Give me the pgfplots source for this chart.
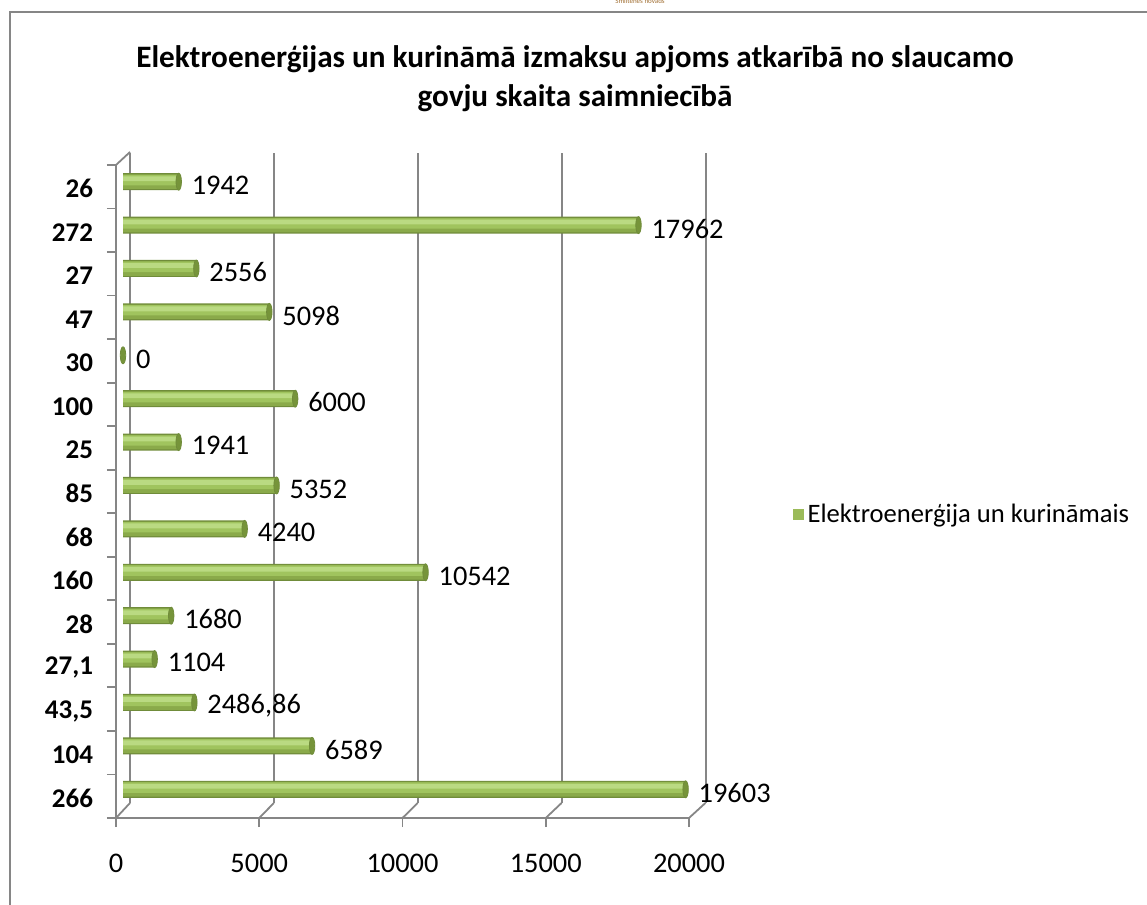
\documentclass[border=0pt]{standalone}
\usepackage{fontspec}
\setmainfont{Carlito}
\usepackage{pgfplots}
\pgfplotsset{compat=1.18}
\usepackage{pgfplotstable}
\definecolor{gridgray}{RGB}{134,134,134}
\definecolor{barE}{RGB}{112,140,58}
\definecolor{barM}{RGB}{138,170,74}
\definecolor{barG}{RGB}{160,196,94}
\definecolor{barL}{RGB}{186,218,130}
\definecolor{capG}{RGB}{118,148,58}
\definecolor{legG}{RGB}{155,187,89}
\definecolor{brownt}{RGB}{160,110,50}

\pgfplotstableread{
i v lab
0 19603 19603
1 6589 6589
2 2486.86 2486,86
3 1104 1104
4 1680 1680
5 10542 10542
6 4240 4240
7 5352 5352
8 1941 1941
9 6000 6000
10 0 0
11 5098 5098
12 2556 2556
13 17962 17962
14 1942 1942
}\datatable

\begin{document}
\begin{tikzpicture}
\useasboundingbox (0,0) rectangle (573.5pt,452.5pt);
\draw[gridgray, line width=1.2pt] (5pt,-20pt) rectangle (600pt,446.5pt);
\node[font=\fontsize{3.5pt}{4pt}\selectfont, text=brownt] at (320pt,452pt) {Smiltenes novads};
\node[font=\fontsize{15.6pt}{18pt}\selectfont\bfseries] at (287.5pt,423pt) {Elektroenerģijas un kurināmā izmaksu apjoms atkarībā no slaucamo};
\node[font=\fontsize{15.6pt}{18pt}\selectfont\bfseries] at (287.5pt,403.5pt) {govju skaita saimniecībā};

% back plane (grid)
\begin{axis}[
  scale only axis, anchor=south west, at={(65pt,51pt)},
  width=288pt, height=325pt,
  xmin=0, xmax=20000, ymin=-0.5, ymax=14.5,
  scaled x ticks=false,
  xtick={0,5000,10000,15000,20000}, xticklabels={},
  ytick=\empty,
  xmajorgrids, grid style={gridgray, line width=0.9pt},
  axis line style={draw=none}, tick style={draw=none},
]
\end{axis}

% front plane (axes, ticks, labels)
\begin{axis}[
  scale only axis, anchor=south west, at={(58pt,43.5pt)},
  width=286.5pt, height=326.5pt,
  xmin=0, xmax=20000, ymin=-0.5, ymax=14.5,
  scaled x ticks=false,
  axis x line=bottom, axis y line=left,
  axis line style={-, gridgray, line width=0.9pt},
  tick style={gridgray, line width=0.9pt},
  tick align=outside, major tick length=4.5pt,
  xtick={0,5000,10000,15000,20000},
  xticklabels={0,5000,10000,15000,20000},
  xticklabel style={font=\fontsize{14.2pt}{16pt}\selectfont, yshift=-10pt},
  ytick={-0.5,0.5,...,14.5}, yticklabels={},
  extra y ticks={0,...,14},
  extra y tick labels={266,104,{43,5},{27,1},28,160,68,85,25,100,30,47,27,272,26},
  extra y tick style={major tick length=0pt, tick style={draw=none},
     yticklabel style={font=\fontsize{13.5pt}{16pt}\selectfont\bfseries, xshift=-8pt, yshift=-1pt}},
  clip=false,
]
\draw[gridgray, line width=0.9pt] (axis cs:0,14.5) -- ++(7pt,6.5pt);
\draw[gridgray, line width=0.9pt] (axis cs:0,-0.5) -- ++(7pt,7.5pt);
\draw[gridgray, line width=0.9pt] (axis cs:5000,-0.5) -- ++(7.3pt,7.5pt);
\draw[gridgray, line width=0.9pt] (axis cs:10000,-0.5) -- ++(7.6pt,7.5pt);
\draw[gridgray, line width=0.9pt] (axis cs:15000,-0.5) -- ++(7.9pt,7.5pt);
\draw[gridgray, line width=0.9pt] (axis cs:20000,-0.5) -- ++(8.2pt,7.5pt);
\end{axis}

% middle plane (bars)
\begin{axis}[
  scale only axis, anchor=south west, at={(61.5pt,47pt)},
  width=287pt, height=325.5pt,
  xmin=0, xmax=20000, ymin=-0.5, ymax=14.5,
  hide axis, clip=false,
  legend style={at={(1.167,0.4555)}, anchor=west, draw=none, fill=none,
     inner sep=0pt, font=\fontsize{13.3pt}{15pt}\selectfont},
  legend image code/.code={\fill[legG] (0pt,-2.6pt) rectangle (5.2pt,2.6pt);},
]
\addplot[xbar, bar width=8.5pt, bar shift=0pt, fill=barE, draw=none]
  table[x=v, y=i] {\datatable};
\addlegendentry{Elektroenerģija un kurināmais}
\addplot[xbar, bar width=7.3pt, bar shift=0pt, fill=barM, draw=none, forget plot]
  table[x=v, y=i] {\datatable};
\addplot[xbar, bar width=5.2pt, bar shift=0.8pt, fill=barG, draw=none, forget plot]
  table[x=v, y=i] {\datatable};
\addplot[xbar, bar width=2.4pt, bar shift=1.5pt, fill=barL, draw=none, forget plot,
  point meta=explicit symbolic, nodes near coords,
  every node near coord/.append style={anchor=west, xshift=3pt, yshift=-1.8pt,
     font=\fontsize{14.2pt}{16pt}\selectfont, text=black}]
  table[x=v, y=i, meta=lab] {\datatable};
\addplot[only marks, mark=*, mark size=4.25pt,
  mark options={xscale=0.32, fill=capG, draw=barE, line width=0.4pt}, forget plot]
  table[x=v, y=i] {\datatable};
\end{axis}
\end{tikzpicture}
\end{document}
